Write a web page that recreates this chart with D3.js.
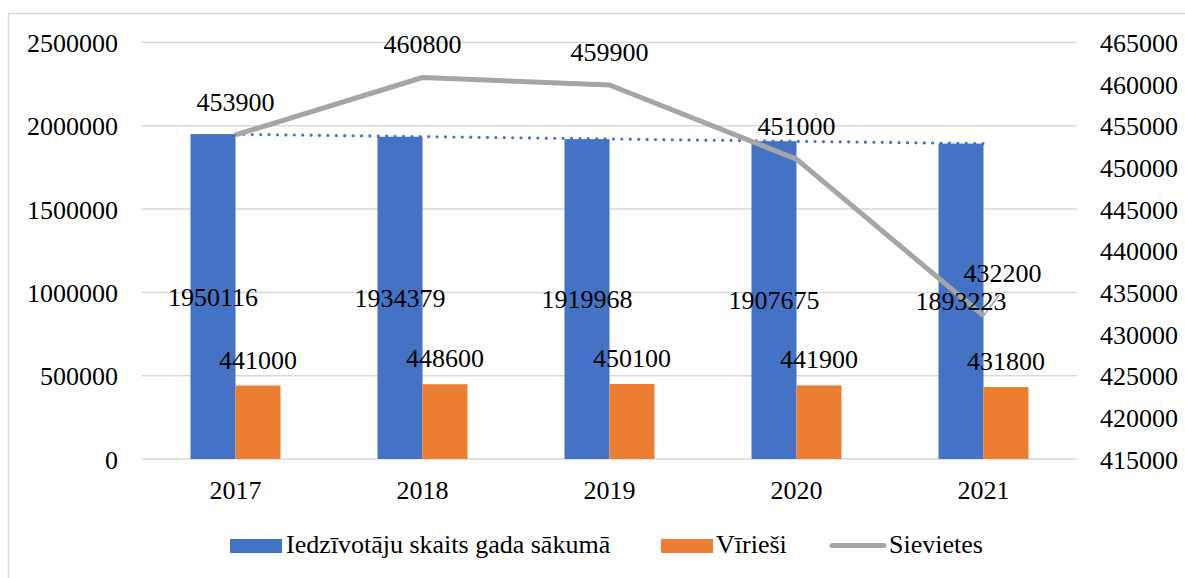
<!DOCTYPE html>
<html>
<head>
<meta charset="utf-8">
<script src="https://cdn.jsdelivr.net/npm/d3@7"></script>
<style>
  body { margin: 0; background: #fff; }
  svg text { font-family: "Liberation Serif", "Times New Roman", Times, "DejaVu Serif", serif; }
</style>
</head>
<body>
<div id="chart"></div>
<script>
var years = ['2017', '2018', '2019', '2020', '2021']
var total = [1950116, 1934379, 1919968, 1907675, 1893223]
var men = [441000, 448600, 450100, 441900, 431800]
var women = [453900, 460800, 459900, 451000, 432200]
var leftTicks = [0, 500000, 1000000, 1500000, 2000000, 2500000]
var rightTicks = [415000, 420000, 425000, 430000, 435000, 440000, 445000, 450000, 455000, 460000, 465000]
var legendNames = ['Iedzīvotāju skaits gada sākumā', 'Vīrieši', 'Sievietes']

var W = 1185, H = 578
var colors = { total: '#4472c4', men: '#ed7d31', women: '#a5a5a5', grid: '#d9d9d9' }
var fs = 26

var margin = { top: 42.5, left: 142, right: 1077, bottom: 459 }

var svg = d3.select('#chart').append('svg')
  .attr('width', W)
  .attr('height', H)

// outer chart border
svg.append('rect')
  .attr('x', 8.5).attr('y', 13.5)
  .attr('width', W + 20).attr('height', H + 20)
  .attr('fill', 'none')
  .attr('stroke', colors.grid)
  .attr('stroke-width', 1.5)

var x = d3.scaleBand()
  .domain(years)
  .range([margin.left, margin.right])

var y = d3.scaleLinear()
  .domain([0, 2500000])
  .range([margin.bottom, margin.top])

var y2 = d3.scaleLinear()
  .domain([415000, 465000])
  .range([margin.bottom, margin.top])

var barW = 45

// gridlines
svg.append('g').selectAll('line')
  .data(leftTicks)
  .enter().append('line')
  .attr('x1', margin.left).attr('x2', margin.right)
  .attr('y1', d => y(d)).attr('y2', d => y(d))
  .attr('stroke', colors.grid)
  .attr('stroke-width', 1.5)

function styleAxis(g) {
  g.select('.domain').remove()
  g.selectAll('text')
    .attr('font-size', fs)
    .attr('fill', '#000')
}

// left axis
var leftAxis = d3.axisLeft(y).tickValues(leftTicks).tickSize(0).tickPadding(0).tickFormat(d3.format('d'))
svg.append('g')
  .attr('transform', 'translate(118,0)')
  .call(leftAxis)
  .call(styleAxis)
  .selectAll('text').attr('dy', '0.35em')

// right axis
var rightAxis = d3.axisRight(y2).tickValues(rightTicks).tickSize(0).tickPadding(0).tickFormat(d3.format('d'))
svg.append('g')
  .attr('transform', 'translate(1100,0)')
  .call(rightAxis)
  .call(styleAxis)
  .selectAll('text').attr('dy', '0.35em')

// bottom axis
var bottomAxis = d3.axisBottom(x).tickSize(0).tickPadding(0)
svg.append('g')
  .attr('transform', 'translate(0,' + margin.bottom + ')')
  .call(bottomAxis)
  .call(styleAxis)
  .selectAll('text')
  .attr('dy', null)
  .attr('y', 40)

var cx = d => x(d) + x.bandwidth() / 2

// bars
svg.append('g').selectAll('rect')
  .data(years)
  .enter().append('rect')
  .attr('x', d => cx(d) - barW)
  .attr('width', barW)
  .attr('y', (d, i) => y(total[i]))
  .attr('height', (d, i) => y(0) - y(total[i]))
  .attr('fill', colors.total)

svg.append('g').selectAll('rect')
  .data(years)
  .enter().append('rect')
  .attr('x', d => cx(d))
  .attr('width', barW)
  .attr('y', (d, i) => y(men[i]))
  .attr('height', (d, i) => y(0) - y(men[i]))
  .attr('fill', colors.men)

// linear trendline for total
{
  var n = total.length
  var xs = d3.range(1, n + 1)
  var mx = d3.mean(xs), my = d3.mean(total)
  var slope = d3.sum(xs, (v, i) => (v - mx) * (total[i] - my)) / d3.sum(xs, v => (v - mx) * (v - mx))
  var trend = v => my + slope * (v - mx)

  svg.append('line')
    .attr('x1', cx(years[0])).attr('x2', cx(years[n - 1]))
    .attr('y1', y(trend(1))).attr('y2', y(trend(n)))
    .attr('stroke', colors.total)
    .attr('stroke-width', 3.2)
    .attr('stroke-linecap', 'round')
    .attr('stroke-dasharray', '0 8.4')
}

// women line
var line = d3.line()
  .x((d, i) => cx(years[i]))
  .y(d => y2(d))

svg.append('path')
  .datum(women)
  .attr('d', line)
  .attr('fill', 'none')
  .attr('stroke', colors.women)
  .attr('stroke-width', 5)
  .attr('stroke-linejoin', 'round')

// leader line for the last women label
var last = women.length - 1
svg.append('line')
  .attr('x1', cx(years[last])).attr('y1', y2(women[last]))
  .attr('x2', cx(years[last]) + 16).attr('y2', y2(women[last]) - 21)
  .attr('stroke', colors.women)
  .attr('stroke-width', 1.5)

// labels
var labels = svg.append('g')
  .attr('font-size', fs)
  .attr('fill', '#000')
  .attr('text-anchor', 'middle')

labels.selectAll('.lt')
  .data(years)
  .enter().append('text')
  .attr('class', 'lt')
  .attr('x', d => cx(d) - barW / 2)
  .attr('y', (d, i) => (y(total[i]) + y(0)) / 2 + fs * 0.35)
  .text((d, i) => total[i])

labels.selectAll('.lm')
  .data(years)
  .enter().append('text')
  .attr('class', 'lm')
  .attr('x', d => cx(d) + barW / 2)
  .attr('y', (d, i) => y(men[i]) - 17)
  .text((d, i) => men[i])

labels.selectAll('.lw')
  .data(years)
  .enter().append('text')
  .attr('class', 'lw')
  .attr('x', (d, i) => cx(d) + (i === last ? 19 : 0))
  .attr('y', (d, i) => y2(women[i]) - (i === last ? 34 : 24))
  .text((d, i) => women[i])

// legend
var legend = svg.append('g').attr('font-size', 26)

legend.append('rect')
  .attr('x', 230).attr('y', 539).attr('width', 52).attr('height', 14)
  .attr('fill', colors.total)
legend.append('text')
  .attr('x', 286).attr('y', 553)
  .text(legendNames[0])

legend.append('rect')
  .attr('x', 661).attr('y', 539).attr('width', 52).attr('height', 14)
  .attr('fill', colors.men)
legend.append('text')
  .attr('x', 716).attr('y', 553)
  .text(legendNames[1])

legend.append('line')
  .attr('x1', 832).attr('x2', 884).attr('y1', 545.5).attr('y2', 545.5)
  .attr('stroke', colors.women)
  .attr('stroke-width', 5)
  .attr('stroke-linecap', 'round')
legend.append('text')
  .attr('x', 889).attr('y', 553)
  .text(legendNames[2])
</script>
</body>
</html>
